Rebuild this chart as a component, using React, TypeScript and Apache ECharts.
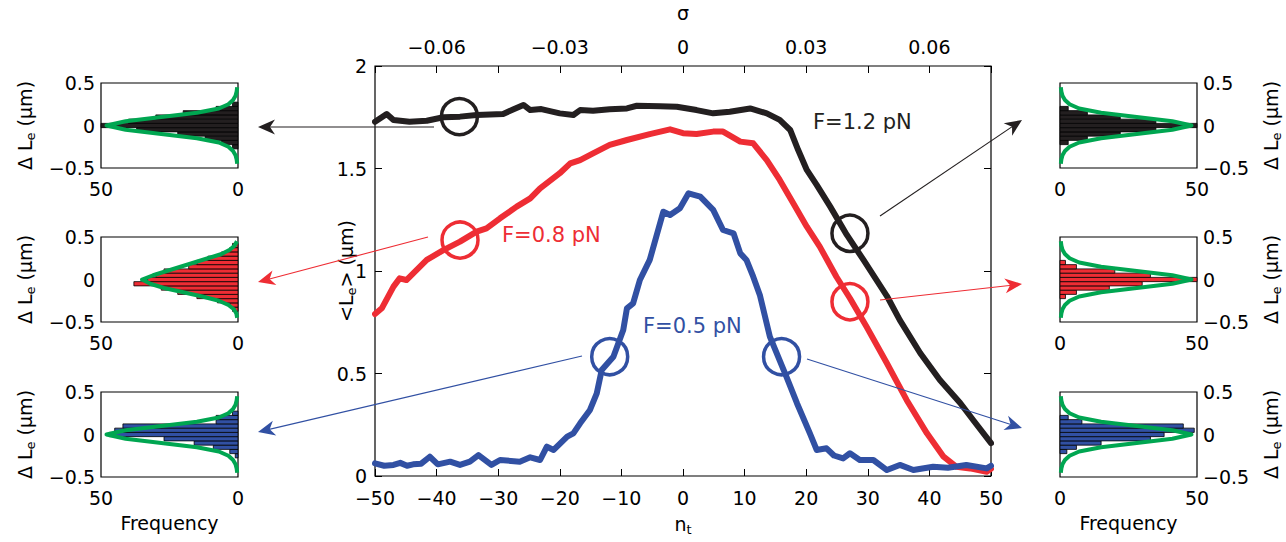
import React, { useEffect, useRef } from "react";
import * as echarts from "echarts";

// ---------- DATA ----------
// main curves: [n_t, <L_e> (µm)]
const curveF12: [number, number][] = [
  [-50, 1.728], [-48.1, 1.766], [-47, 1.737], [-44.4, 1.728], [-41.6, 1.733], [-38.9, 1.75], [-36.2, 1.753],
  [-33.5, 1.761], [-29.2, 1.766], [-27.5, 1.789], [-25.9, 1.81], [-24.8, 1.785], [-23, 1.79], [-20, 1.769],
  [-17.8, 1.761], [-16.7, 1.785], [-14.6, 1.782], [-11.9, 1.789], [-9.1, 1.793], [-7.5, 1.806], [-3.7, 1.804],
  [-1, 1.801], [2.2, 1.785], [4.9, 1.769], [7.6, 1.777], [10.9, 1.793], [13.6, 1.769], [15.7, 1.737],
  [17.4, 1.688], [18.7, 1.59], [20.1, 1.493], [21.7, 1.42], [23.9, 1.314], [26.6, 1.176], [29.3, 1.054],
  [33.1, 0.878], [35.2, 0.76], [38.5, 0.6], [41.7, 0.468], [45, 0.356], [47.1, 0.273], [50, 0.16],
];
const curveF08: [number, number][] = [
  [-50, 0.79], [-48.9, 0.818], [-47, 0.924], [-46, 0.964], [-44.9, 0.956], [-41.6, 1.054], [-38.9, 1.102],
  [-36.2, 1.143], [-33.5, 1.192], [-31.9, 1.208], [-29.7, 1.257], [-27, 1.314], [-24.8, 1.354], [-23.2, 1.403],
  [-20, 1.477], [-18.3, 1.525], [-16.7, 1.541], [-14.6, 1.574], [-11.9, 1.615], [-9.1, 1.639], [-5.4, 1.668],
  [-2.1, 1.691], [0, 1.672], [2.2, 1.668], [4.9, 1.68], [6.5, 1.68], [9.3, 1.631], [11.4, 1.623], [13.6, 1.541],
  [15.7, 1.444], [17.9, 1.33], [20.1, 1.216], [22.2, 1.119], [24.9, 0.972], [27.1, 0.867], [29.8, 0.728],
  [33.1, 0.55], [36.3, 0.371], [39.6, 0.208], [42.3, 0.094], [44.4, 0.045], [46.6, 0.037], [49.3, 0.021], [50, 0.035],
];
const curveF05: [number, number][] = [
  [-50, 0.062], [-48.5, 0.05], [-47, 0.054], [-45.9, 0.064], [-44.8, 0.05], [-43.8, 0.057], [-42.5, 0.06],
  [-41.1, 0.094], [-39.8, 0.057], [-37.8, 0.07], [-36.2, 0.054], [-34.6, 0.07], [-33.2, 0.102], [-31.1, 0.054],
  [-29.7, 0.078], [-26.5, 0.07], [-24.8, 0.091], [-23.2, 0.078], [-22.1, 0.143], [-21, 0.127], [-18.8, 0.192],
  [-17.8, 0.208], [-16.7, 0.257], [-15.1, 0.322], [-14, 0.403], [-13.2, 0.517], [-11.3, 0.582], [-9.7, 0.712],
  [-9.1, 0.818], [-8.1, 0.842], [-7, 0.956], [-5.4, 1.054], [-3.2, 1.289], [-2.1, 1.273], [-0.5, 1.306],
  [0.9, 1.379], [2.8, 1.363], [4.9, 1.298], [6.5, 1.2], [8.2, 1.184], [9.3, 1.086], [10.3, 1.054], [11.4, 0.972],
  [12.5, 0.88], [14.1, 0.68], [16.8, 0.484], [18.5, 0.355], [20.6, 0.208], [21.7, 0.127], [23.3, 0.135],
  [24.5, 0.1], [26, 0.086], [27.1, 0.111], [28.7, 0.078], [30.9, 0.078], [33.1, 0.029], [35.2, 0.054],
  [37.4, 0.029], [40.6, 0.045], [43, 0.04], [46, 0.054], [49.3, 0.037], [50, 0.05],
];
// circled points [n_t, <L_e>]
const circlesF12: [number, number][] = [[-36.3, 1.753], [27.1, 1.184]];
const circlesF08: [number, number][] = [[-36.2, 1.151], [27.1, 0.85]];
const circlesF05: [number, number][] = [[-11.9, 0.582], [16, 0.582]];

const sigmaTickLabels = [-0.06, -0.03, 0, 0.03, 0.06];

// histograms: [ΔL_e bin centre (µm), frequency]
const binWidth = 0.05;
const histBlackL: [number, number][] = [
  [-0.25, 2], [-0.2, 6], [-0.15, 12], [-0.1, 22], [-0.05, 37], [0, 50], [0.05, 40], [0.1, 30], [0.15, 20], [0.2, 8], [0.25, 2],
];
const histRedL: [number, number][] = [
  [-0.35, 2], [-0.3, 3], [-0.25, 7.5], [-0.2, 15], [-0.15, 22], [-0.1, 28], [-0.05, 38], [0, 33], [0.05, 30],
  [0.1, 27], [0.15, 18], [0.2, 15], [0.25, 11], [0.3, 6], [0.35, 3], [0.4, 2],
];
const histBlueL: [number, number][] = [
  [-0.25, 1], [-0.2, 3], [-0.15, 9], [-0.1, 16], [-0.05, 27], [0, 47], [0.05, 45], [0.1, 42], [0.15, 8], [0.2, 8], [0.25, 2],
];
const histBlackR: [number, number][] = [
  [-0.2, 3], [-0.15, 10], [-0.1, 22], [-0.05, 35], [0, 50], [0.05, 35], [0.1, 22], [0.15, 10], [0.2, 3],
];
const histRedR: [number, number][] = [
  [-0.2, 2], [-0.15, 6], [-0.1, 18], [-0.05, 30], [0, 50], [0.05, 33], [0.1, 20], [0.15, 6], [0.2, 2],
];
const histBlueR: [number, number][] = [
  [-0.2, 2.5], [-0.15, 6], [-0.1, 15], [-0.05, 33], [0, 38], [0.05, 49], [0.1, 45], [0.15, 8], [0.2, 3],
];
// fitted curves: [frequency, ΔL_e]
const fitBlackL: [number, number][] = [
  [0.3, -0.45], [0.5, -0.4], [0.9, -0.35], [1.8, -0.3], [3.5, -0.25], [7, -0.2], [15, -0.15], [28, -0.1], [41, -0.05], [48, 0],
  [41, 0.05], [28, 0.1], [15, 0.15], [7, 0.2], [3.5, 0.25], [1.8, 0.3], [0.9, 0.35], [0.5, 0.4], [0.3, 0.45],
];
const fitRedL: [number, number][] = [
  [0.3, -0.45], [0.6, -0.4], [1.5, -0.35], [3.5, -0.3], [7, -0.25], [13, -0.2], [20, -0.15], [27, -0.1], [32, -0.05], [35, 0],
  [31, 0.05], [26, 0.1], [21, 0.15], [16, 0.2], [11, 0.25], [6, 0.3], [3, 0.35], [1.2, 0.4], [0.4, 0.45],
];
const fitBlueL: [number, number][] = [
  [0.3, -0.45], [0.5, -0.4], [0.9, -0.35], [1.8, -0.3], [3.5, -0.25], [7, -0.2], [15, -0.15], [28, -0.1], [41, -0.05], [48, 0],
  [41, 0.05], [28, 0.1], [15, 0.15], [7, 0.2], [3.5, 0.25], [1.8, 0.3], [0.9, 0.35], [0.5, 0.4], [0.3, 0.45],
];
const fitBlackR: [number, number][] = [
  [0.3, -0.45], [0.5, -0.4], [0.9, -0.35], [1.8, -0.3], [3.5, -0.25], [7, -0.2], [15, -0.15], [28, -0.1], [41, -0.05], [48, 0],
  [41, 0.05], [28, 0.1], [15, 0.15], [7, 0.2], [3.5, 0.25], [1.8, 0.3], [0.9, 0.35], [0.5, 0.4], [0.3, 0.45],
];
const fitRedR: [number, number][] = [
  [0.3, -0.45], [0.5, -0.4], [0.9, -0.35], [1.8, -0.3], [3.5, -0.25], [7, -0.2], [15, -0.15], [28, -0.1], [41, -0.05], [48, 0],
  [41, 0.05], [28, 0.1], [15, 0.15], [7, 0.2], [3.5, 0.25], [1.8, 0.3], [0.9, 0.35], [0.5, 0.4], [0.3, 0.45],
];
const fitBlueR: [number, number][] = [
  [0.3, -0.45], [0.5, -0.4], [0.9, -0.35], [1.8, -0.3], [3.5, -0.25], [7, -0.2], [15, -0.15], [28, -0.1], [41, -0.05], [48, 0],
  [41, 0.05], [28, 0.1], [15, 0.15], [7, 0.2], [3.5, 0.25], [1.8, 0.3], [0.9, 0.35], [0.5, 0.4], [0.3, 0.45],
];

// ---------- STYLE ----------
const FONT = "'DejaVu Sans', 'Liberation Sans', Arial, sans-serif";
const BLACK = "#231f20";
const RED = "#ee2d34";
const BLUE = "#3150a3";
const GREEN = "#00a651";

const minus = (v: number) => (v < 0 ? "\u2212" + String(Math.abs(v)) : String(v));

function arrowGraphics(x1: number, y1: number, x2: number, y2: number, color: string) {
  const dx = x2 - x1, dy = y2 - y1;
  const len = Math.hypot(dx, dy);
  const ux = dx / len, uy = dy / len;
  const px = -uy, py = ux;
  const L = 17, W = 7.5, B = 5;
  const bx = x2 - ux * L, by = y2 - uy * L;
  return [
    { type: "line", shape: { x1, y1, x2: x2 - ux * 6, y2: y2 - uy * 6 }, style: { stroke: color, lineWidth: 1.1 }, z: 50 },
    {
      type: "polygon",
      shape: {
        points: [
          [x2, y2],
          [bx + px * W, by + py * W],
          [x2 - ux * (L - B), y2 - uy * (L - B)],
          [bx - px * W, by - py * W],
        ],
      },
      style: { fill: color },
      z: 50,
    },
  ];
}

function renderBars(fill: string) {
  return (_p: any, api: any) => {
    const c = api.value(0);
    const f = api.value(1);
    const a = api.coord([0, c + binWidth / 2]);
    const b = api.coord([f, c - binWidth / 2]);
    return {
      type: "rect",
      shape: {
        x: Math.min(a[0], b[0]),
        y: Math.min(a[1], b[1]),
        width: Math.abs(b[0] - a[0]),
        height: Math.abs(b[1] - a[1]),
      },
      style: { fill, stroke: "#000", lineWidth: 0.8 },
    };
  };
}

export default function App() {
  const ref = useRef<HTMLDivElement>(null);
  useEffect(() => {
    if (!ref.current) return;
    const chart = echarts.init(ref.current, undefined, { renderer: "svg" });

    const smallGrids = [
      { left: 101, top: 83 }, { left: 101, top: 237 }, { left: 101, top: 392 },
      { left: 1060, top: 83 }, { left: 1060, top: 237 }, { left: 1060, top: 392 },
    ];
    const grids: any[] = [
      { left: 375, top: 66, width: 616, height: 410, show: true, borderColor: "#000", borderWidth: 1.2, backgroundColor: "transparent", outerBoundsMode: "none" },
      ...smallGrids.map((g) => ({ ...g, width: 137, height: 85, show: true, borderColor: "#000", borderWidth: 1.2, backgroundColor: "transparent", outerBoundsMode: "none" })),
    ];

    const labelStyle = { color: "#000", fontFamily: FONT, fontSize: 19 };
    const smallLabelStyle = { color: "#000", fontFamily: FONT, fontSize: 19 };
    const dLeName = "{a|\u0394 L}{s|e}{a| (\u03bcm)}";
    const nameRich = {
      a: { fontSize: 19, fontFamily: FONT, color: "#000" },
      s: { fontSize: 13, fontFamily: FONT, color: "#000", padding: [11, 0, 0, 0] },
    };

    const xAxes: any[] = [
      {
        type: "value", gridIndex: 0, min: -50, max: 50, interval: 10, position: "bottom",
        axisLine: { show: false, onZero: false }, axisTick: { show: true, inside: true, length: 7, lineStyle: { color: "#000" } },
        axisLabel: { ...labelStyle, margin: 12, formatter: (v: number) => minus(v) }, splitLine: { show: false },
        name: "{a|n}{s|t}", nameLocation: "middle", nameGap: 36, nameMoveOverlap: false, nameTextStyle: { rich: nameRich },
      },
      {
        type: "value", gridIndex: 0, min: -0.075, max: 0.075, interval: 0.015, position: "top",
        axisLine: { show: false, onZero: false }, axisTick: { show: true, inside: true, length: 7, lineStyle: { color: "#000" } },
        axisLabel: {
          ...labelStyle, margin: 10,
          formatter: (v: number) => {
            const s = sigmaTickLabels.find((t) => Math.abs(t - v) < 1e-6);
            return s === undefined ? "" : minus(s);
          },
        },
        splitLine: { show: false },
        name: "\u03c3", nameLocation: "middle", nameGap: 44, nameMoveOverlap: false,
        nameTextStyle: { color: "#000", fontFamily: FONT, fontSize: 19 },
      },
    ];
    const yAxes: any[] = [
      {
        type: "value", gridIndex: 0, min: 0, max: 2, interval: 0.5, position: "left",
        axisLine: { show: false, onZero: false }, axisTick: { show: true, inside: true, length: 7, lineStyle: { color: "#000" } },
        axisLabel: { ...labelStyle, margin: 8 }, splitLine: { show: false },
        name: "{a|<L}{s|e}{a|> (\u03bcm)}", nameLocation: "middle", nameGap: 17, nameRotate: 90, nameMoveOverlap: false,
        nameTextStyle: { rich: nameRich },
      },
      {
        type: "value", gridIndex: 0, min: 0, max: 2, interval: 0.5, position: "right",
        axisLine: { show: false, onZero: false }, axisTick: { show: true, inside: true, length: 7, lineStyle: { color: "#000" } },
        axisLabel: { show: false }, splitLine: { show: false },
      },
    ];
    smallGrids.forEach((_g, i) => {
      const isLeft = i < 3;
      const isBottom = i % 3 === 2;
      xAxes.push({
        type: "value", gridIndex: i + 1, min: 0, max: 50, interval: 50, inverse: isLeft, position: "bottom",
        axisLine: { show: false, onZero: false }, axisTick: { show: false },
        axisLabel: { ...smallLabelStyle, margin: 11 }, splitLine: { show: false },
        name: isBottom ? "Frequency" : "", nameLocation: "middle", nameGap: 36, nameMoveOverlap: false,
        nameTextStyle: { color: "#000", fontFamily: FONT, fontSize: 19 },
      });
      yAxes.push({
        type: "value", gridIndex: i + 1, min: -0.5, max: 0.5, interval: 0.5, position: isLeft ? "left" : "right",
        axisLine: { show: false, onZero: false }, axisTick: { show: false },
        axisLabel: { ...smallLabelStyle, margin: 6, formatter: (v: number) => minus(v) }, splitLine: { show: false },
        name: dLeName, nameLocation: "middle", nameGap: isLeft ? 64 : 62, nameRotate: 90, nameMoveOverlap: false,
        nameTextStyle: { rich: nameRich },
      });
    });

    const mainLine = (data: [number, number][], color: string) => ({
      type: "line", xAxisIndex: 0, yAxisIndex: 0, data, showSymbol: false, symbol: "none",
      lineStyle: { color, width: 6, join: "round", cap: "round", opacity: 1 }, z: 3, clip: false,
    });
    const circle = (data: [number, number][], color: string) => ({
      type: "scatter", xAxisIndex: 0, yAxisIndex: 0, data, symbol: "circle", symbolSize: 36,
      itemStyle: { color: "rgba(0,0,0,0)", borderColor: color, borderWidth: 3.5, opacity: 1 }, z: 5,
    });
    // small grid k (1..6) uses axis index k+1 (main grid owns two x and two y axes)
    const hist = (k: number, data: [number, number][], fill: string) => ({
      type: "custom", xAxisIndex: k + 1, yAxisIndex: k + 1, data, renderItem: renderBars(fill),
      encode: { x: 1, y: 0 }, z: 2,
    });
    const fit = (k: number, data: [number, number][]) => ({
      type: "line", xAxisIndex: k + 1, yAxisIndex: k + 1, data, showSymbol: false, symbol: "none",
      lineStyle: { color: GREEN, width: 4, join: "round" }, z: 4,
    });

    const graphics: any[] = [
      ...arrowGraphics(434, 127, 258, 127, BLACK),
      ...arrowGraphics(880, 216, 1022, 120, BLACK),
      ...arrowGraphics(428, 237, 258, 282, RED),
      ...arrowGraphics(880, 300, 1022, 284, RED),
      ...arrowGraphics(582, 356, 258, 432, BLUE),
      ...arrowGraphics(807, 359, 1022, 428, BLUE),
      { type: "text", x: 813, y: 122, style: { text: "F=1.2 pN", fill: BLACK, font: `21px ${FONT}`, textVerticalAlign: "middle" }, z: 60 },
      { type: "text", x: 502, y: 235, style: { text: "F=0.8 pN", fill: RED, font: `21px ${FONT}`, textVerticalAlign: "middle" }, z: 60 },
      { type: "text", x: 643, y: 326, style: { text: "F=0.5 pN", fill: BLUE, font: `21px ${FONT}`, textVerticalAlign: "middle" }, z: 60 },
    ];

    chart.setOption({
      animation: false,
      backgroundColor: "#fff",
      textStyle: { fontFamily: FONT },
      grid: grids,
      xAxis: xAxes,
      yAxis: yAxes,
      graphic: graphics,
      series: [
        mainLine(curveF12, BLACK),
        mainLine(curveF08, RED),
        mainLine(curveF05, BLUE),
        circle(circlesF12, BLACK),
        circle(circlesF08, RED),
        circle(circlesF05, BLUE),
        hist(1, histBlackL, BLACK), fit(1, fitBlackL),
        hist(2, histRedL, RED), fit(2, fitRedL),
        hist(3, histBlueL, BLUE), fit(3, fitBlueL),
        hist(4, histBlackR, BLACK), fit(4, fitBlackR),
        hist(5, histRedR, RED), fit(5, fitRedR),
        hist(6, histBlueR, BLUE), fit(6, fitBlueR),
      ],
    });
    return () => chart.dispose();
  }, []);
  return (
    <div
      ref={ref}
      style={{ position: "fixed", left: 0, top: 0, width: 1286, height: 542, background: "#fff" }}
    />
  );
}
